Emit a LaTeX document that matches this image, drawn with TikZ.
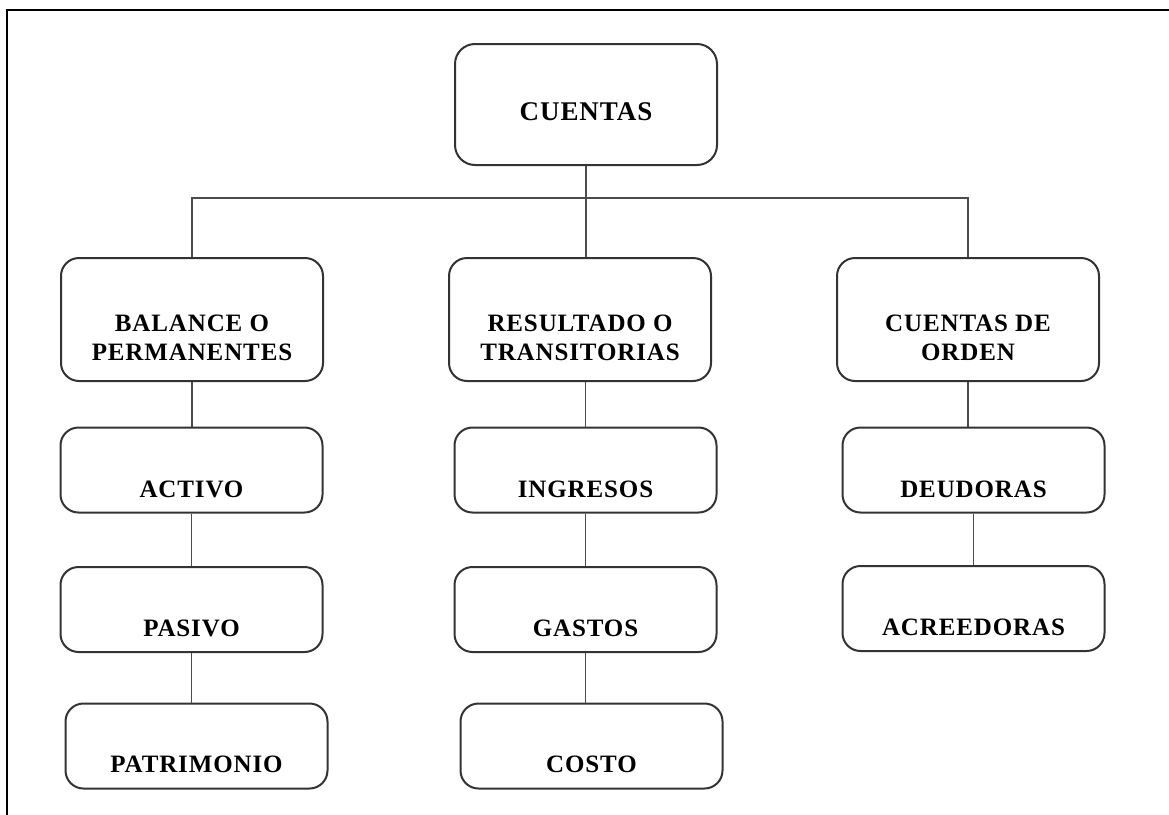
\documentclass[tikz,border=0pt]{standalone}
\usepackage{fontspec}
\setmainfont{Liberation Serif}[LetterSpace=3.5]
\usetikzlibrary{calc}

\newcommand{\lowered}[2]{\raisebox{-#1}[0pt][0pt]{#2}}
\newcommand{\twolines}[2]{\raisebox{-11.5pt}[0pt][0pt]{\begin{tabular}[t]{@{}c@{}}#1\\#2\end{tabular}}}

\begin{document}
\begin{tikzpicture}[x=1pt, y=-1pt,
    cuenta/.style={draw=black!80, line width=2pt, rounded corners=18pt, fill=white,
        minimum width=262pt, minimum height=85pt, inner sep=0pt,
        font=\fontsize{25}{29}\selectfont\bfseries},
    rama/.style={draw=black!70, line width=1.8pt}]
    \useasboundingbox (0,0) rectangle (1169,814);
    \begin{scope}
        \clip (0,0) rectangle (1169,814);
        \draw[line width=2.5pt] (7,10) rectangle (1200,850);
    \end{scope}
    % top level
    \node[cuenta, minimum height=121pt, rounded corners=20pt, font=\fontsize{27}{31}\selectfont\bfseries] (cuentas) at (586,104.5) {\lowered{15.5pt}{CUENTAS}};
    % second level
    \node[cuenta, minimum height=123pt] (balance) at (192,319.5) {\twolines{BALANCE O}{PERMANENTES}};
    \node[cuenta, minimum height=123pt] (resultado) at (580,319.5) {\twolines{RESULTADO O}{TRANSITORIAS}};
    \node[cuenta, minimum height=123pt] (orden) at (968,319.5) {\twolines{CUENTAS DE}{ORDEN}};
    % sub accounts
    \node[cuenta] (activo) at (191.5,470) {\lowered{27pt}{ACTIVO}};
    \node[cuenta] (ingresos) at (585.5,470) {\lowered{27pt}{INGRESOS}};
    \node[cuenta] (deudoras) at (973.5,470) {\lowered{27pt}{DEUDORAS}};
    \node[cuenta] (pasivo) at (191.5,609.5) {\lowered{27pt}{PASIVO}};
    \node[cuenta] (gastos) at (585.5,609.5) {\lowered{27pt}{GASTOS}};
    \node[cuenta] (acreedoras) at (973.5,608.5) {\lowered{27pt}{ACREEDORAS}};
    \node[cuenta] (patrimonio) at (196.5,746) {\lowered{26pt}{PATRIMONIO}};
    \node[cuenta] (costo) at (591.5,746) {\lowered{26pt}{COSTO}};
    % connectors
    \coordinate (bus) at ($(cuentas.south)+(0,32)$);
    \draw[rama] (cuentas.south) -- (bus);
    \draw[rama] (balance.north) |- (bus) -| (orden.north);
    \draw[rama] (bus) -- (bus |- resultado.north);
    \foreach \a/\b in {balance/activo, activo/pasivo, pasivo/patrimonio, ingresos/gastos, gastos/costo, deudoras/acreedoras}
        \draw[rama] (\a.south) -- (\a.south |- \b.north);
    \draw[rama] (ingresos.north) -- (ingresos.north |- resultado.south);
    \draw[rama] (orden.south) -- (orden.south |- deudoras.north);
\end{tikzpicture}
\end{document}
